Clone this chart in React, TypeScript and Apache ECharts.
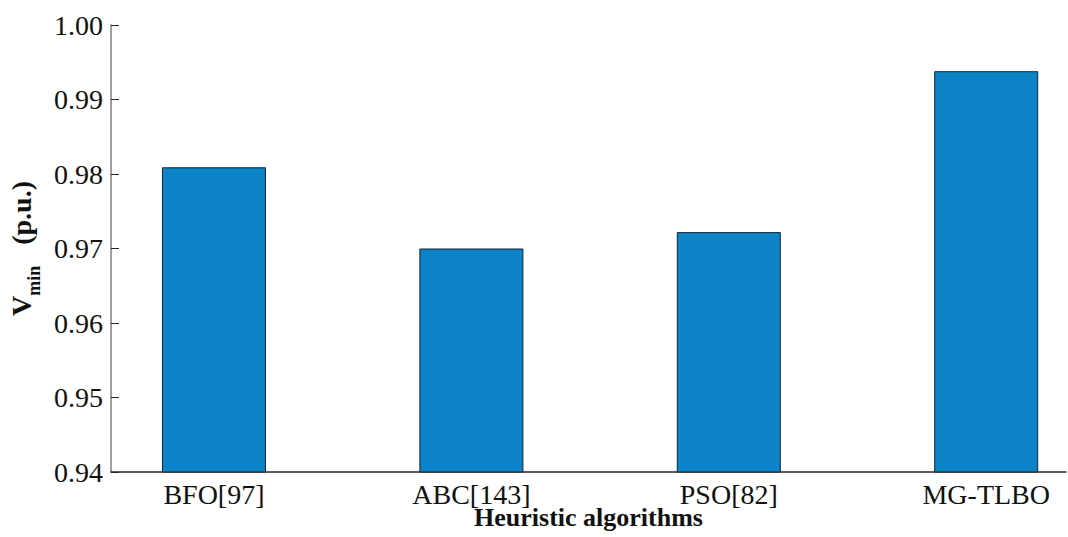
import React, { useEffect, useRef } from "react";
import * as echarts from "echarts";

// Minimum bus voltage (p.u.) reached by each heuristic algorithm
const algorithms = ["BFO[97]", "ABC[143]", "PSO[82]", "MG-TLBO"];
const vmin = [0.9809, 0.97, 0.9722, 0.9938];
const yTicks = [0.94, 0.95, 0.96, 0.97, 0.98, 0.99, 1.0];

const serif = "Liberation Serif";

export default function App() {
  const ref = useRef<HTMLDivElement>(null);

  useEffect(() => {
    document.body.style.margin = "0";
    if (!ref.current) return;
    const chart = echarts.init(ref.current, null, { renderer: "svg" });
    const positions = algorithms.map((_, i) => i + 1);

    chart.setOption({
      animation: false,
      backgroundColor: "#ffffff",
      textStyle: { fontFamily: serif },
      grid: {
        left: 111,
        right: 2,
        top: 25,
        bottom: 65,
        containLabel: false,
        outerBoundsMode: "none",
      },
      xAxis: {
        type: "value",
        min: 0.6,
        max: 4.31,
        splitLine: { show: false },
        axisTick: { show: false },
        axisLine: { show: true, onZero: false, lineStyle: { color: "#262626", width: 1.5 } },
        axisLabel: {
          customValues: positions,
          formatter: (v: number) => algorithms[Math.round(v) - 1] ?? "",
          fontFamily: serif,
          fontSize: 28,
          color: "#111",
          margin: 8,
        },
        name: "Heuristic algorithms",
        nameLocation: "middle",
        nameGap: 32,
        nameMoveOverlap: false,
        nameTextStyle: {
          fontFamily: serif,
          fontWeight: "bold",
          fontSize: 26,
          color: "#111",
        },
      },
      yAxis: {
        type: "value",
        min: 0.94,
        max: 1.0,
        interval: 0.01,
        splitLine: { show: false },
        axisLine: { show: true, lineStyle: { color: "#808080", width: 1.5 } },
        axisTick: {
          show: true,
          inside: true,
          length: 8,
          lineStyle: { color: "#262626", width: 1 },
        },
        axisLabel: {
          formatter: (v: number) => {
            const t = yTicks.find((y) => Math.abs(y - v) < 1e-6);
            return (t ?? v).toFixed(2);
          },
          fontFamily: serif,
          fontSize: 28,
          color: "#111",
          margin: 8,
        },
        name: "{v|V}{sub|min}{v|   (p.u.)}",
        nameLocation: "middle",
        nameRotate: 90,
        nameGap: 76,
        nameMoveOverlap: false,
        nameTextStyle: {
          rich: {
            v: { fontFamily: serif, fontWeight: "bold", fontSize: 28, color: "#111" },
            sub: {
              fontFamily: serif,
              fontWeight: "bold",
              fontSize: 18,
              color: "#111",
              verticalAlign: "bottom",
              padding: [0, 0, -8, 0],
            },
          },
        },
      },
      series: [
        {
          type: "bar",
          barWidth: 104,
          data: vmin.map((v, i) => [positions[i], v]),
          itemStyle: { color: "#0c84c7", borderColor: "#14222e", borderWidth: 1 },
        },
      ],
    });

    return () => chart.dispose();
  }, []);

  return <div ref={ref} style={{ width: 1068, height: 537 }} />;
}
